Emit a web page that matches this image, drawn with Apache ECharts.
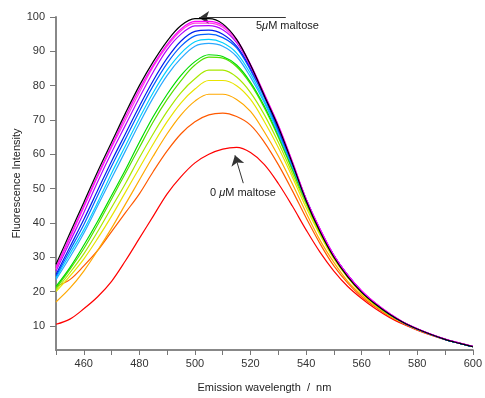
<!DOCTYPE html>
<html>
<head>
    <meta charset="utf-8" />
    <script src="https://cdn.jsdelivr.net/npm/echarts@6/dist/echarts.min.js"></script>
    <title></title>
    <style>
        html, body { margin: 0; padding: 0; background: #fff; }
    </style>
</head>
<body>
    <div id="main" style="width: 485px;height:398px;"></div>

    <script type="text/javascript">

        // emission wavelength, nm
        var wavelengths = [450, 455, 460, 465, 470, 475, 480, 485, 490, 495, 500, 505, 510, 515, 520, 525,
            530, 535, 540, 545, 550, 555, 560, 565, 570, 575, 580, 585, 590, 595, 600];

        // fluorescence intensity, one array per maltose concentration (0 -> 5 uM)
        var red = [10.5, 12, 15, 18.5, 23, 29, 35.5, 42, 48.5, 53.5, 57.5, 60, 61.5, 62, 60.5, 57,
            51.5, 45, 38, 31.5, 26, 21.5, 18, 15, 12.5, 10.5, 8.8, 7.3, 6, 5, 4];
        var orangeRed = [21.5, 23.5, 27.5, 32, 37.5, 43, 48.5, 55, 61, 66, 69.5, 71.5, 72, 71, 68.5, 63.5,
            57, 49.5, 41.5, 34, 27.5, 22.5, 18.5, 15.5, 12.8, 10.7, 8.9, 7.4, 6.1, 5, 4];
        var orange = [17, 21, 26, 32, 38.5, 45.5, 52.5, 59.5, 66, 71.5, 75.5, 77.5, 77.5, 76, 72.5, 66.5,
            59.5, 51.5, 43, 35, 28.5, 23, 19, 15.8, 13, 10.8, 9, 7.5, 6.1, 5, 4];
        var yellow = [20, 24.5, 29.5, 35.5, 42, 49, 56, 63, 69.5, 75, 79, 81.5, 81.5, 80, 76, 69.5,
            62, 53.5, 44.5, 36.5, 29.5, 24, 19.5, 16, 13.2, 11, 9, 7.5, 6.1, 5, 4];
        var lime = [20.5, 25.5, 31, 37.5, 44.5, 51.5, 59, 66, 72.5, 78, 82, 84.5, 84.5, 82.5, 78, 71.5,
            63.5, 54.5, 45.5, 37, 30, 24.3, 19.8, 16.2, 13.3, 11, 9.1, 7.5, 6.1, 5, 4];
        var green2 = [21, 26.5, 32.5, 39.5, 47, 54.5, 62, 69.5, 76, 81.5, 86, 88.3, 88, 85.5, 80.5, 73.5,
            65, 55.5, 46, 37.5, 30.2, 24.5, 20, 16.3, 13.4, 11, 9.1, 7.5, 6.1, 5, 4];
        var green = [21.5, 27, 33.5, 40.5, 48, 55.5, 63.5, 71, 77.5, 83, 87, 89, 88.5, 86, 81, 74,
            65.5, 56, 46.5, 37.8, 30.4, 24.6, 20, 16.4, 13.4, 11, 9.1, 7.5, 6.1, 5, 4];
        var sky = [23.5, 30, 37, 45, 53, 61, 69, 76.5, 83, 88, 91.5, 92.3, 91.5, 88.5, 82.5, 75,
            66, 56.5, 46.5, 38, 30.5, 24.7, 20, 16.4, 13.4, 11, 9.1, 7.5, 6.1, 5, 4];
        var cyan = [24, 31, 38, 46, 54.5, 62.5, 70.5, 78, 84.5, 89.5, 92.8, 93.5, 92.5, 89.5, 83.5, 75.5,
            66.5, 57, 47, 38.2, 30.6, 24.8, 20.1, 16.5, 13.5, 11, 9.1, 7.5, 6.1, 5, 4];
        var azure = [24.5, 32, 39.5, 48, 56.5, 64.5, 72.5, 80, 86.5, 91.5, 94.5, 95, 94, 91, 84.5, 76.5,
            67, 57, 46.8, 38, 30.5, 24.8, 20.1, 16.5, 13.5, 11, 9.1, 7.5, 6.1, 5, 4];
        var blue = [25, 33, 41, 49.5, 58, 66, 74, 81.5, 88, 93, 95.8, 96.2, 95, 91.5, 85, 77,
            67.5, 57.5, 47, 38, 30.5, 24.8, 20.1, 16.5, 13.5, 11, 9.1, 7.5, 6.1, 5, 4];
        var purple = [26, 34.5, 43, 52, 60.5, 68.5, 76.5, 84, 90.5, 95, 97.4, 97.5, 96.3, 92.5, 85.5, 77,
            68, 57.5, 46.8, 38, 30.5, 24.8, 20.2, 16.6, 13.6, 11.1, 9.2, 7.6, 6.2, 5.1, 4.1];
        var pink = [26.5, 35.5, 44.5, 53.5, 62, 70, 78, 85.5, 91.5, 96, 98.2, 98.2, 97, 93, 86, 77.5,
            68.5, 58, 47, 38.2, 30.6, 24.8, 20.2, 16.6, 13.6, 11.1, 9.2, 7.6, 6.2, 5.1, 4.1];
        var magenta = [27, 36, 45, 54, 62.5, 71, 79, 86, 92, 96.5, 98.7, 98.7, 97.5, 93.5, 86.2, 77.5,
            68.5, 58, 47, 38.3, 30.6, 24.8, 20.2, 16.6, 13.6, 11.1, 9.2, 7.6, 6.2, 5.1, 4.1];
        var black = [28, 37, 46, 55, 63.5, 72, 80, 87, 93, 97.5, 99.5, 99.5, 98, 93.5, 86, 77,
            68, 57.5, 46.5, 37.5, 30, 24.3, 19.8, 16.3, 13.4, 11, 9.1, 7.5, 6.1, 5, 4];

        var curves = [red, orangeRed, orange, yellow, lime, green2, green, sky, cyan, azure, blue, purple, pink, magenta, black];
        var colors = ['#ff0000', '#ff5a00', '#ffa800', '#e8e400', '#a8e800', '#55e000', '#00dd00', '#2aa8ff', '#00d0ff',
            '#0060ff', '#0020ee', '#b000ff', '#ff44dd', '#ff00ff', '#000000'];

        var yTicks = [10, 20, 30, 40, 50, 60, 70, 80, 90, 100];
        var xTicks = [450, 460, 470, 480, 490, 500, 510, 520, 530, 540, 550, 560, 570, 580, 590, 600];
        var xLabels = [460, 480, 500, 520, 540, 560, 580, 600];

        var myChart = echarts.init(document.getElementById('main'));

        var series = [];
        for (var i = 0; i < curves.length; i++) {
            var pts = [];
            for (var j = 0; j < wavelengths.length; j++) {
                pts.push([wavelengths[j], curves[i][j]]);
            }
            series.push({
                type: 'line',
                data: pts,
                smooth: 0.35,
                symbol: 'none',
                lineStyle: { color: colors[i], width: 1.2 },
                z: 2 + i
            });
        }

        // arrows pointing at the 5 uM and 0 uM curves
        series.push({
            type: 'line',
            data: [],
            z: 30,
            markLine: {
                silent: true,
                symbol: ['none', 'arrow'],
                symbolSize: 10,
                label: { show: false },
                lineStyle: { color: '#333', width: 1, type: 'solid' },
                data: [
                    [{ coord: [532.7, 99.8] }, { coord: [501.5, 99.8] }],
                    [{ coord: [517.4, 51.6] }, { coord: [514.4, 59.7] }]
                ]
            }
        });

        myChart.setOption({
            animation: false,
            textStyle: { fontFamily: 'Liberation Sans, Arial, sans-serif' },
            grid: { left: 56, right: 8, top: 17, bottom: 45 },
            xAxis: {
                type: 'value',
                min: 450,
                max: 600,
                name: 'Emission wavelength  /  nm',
                nameLocation: 'middle',
                nameGap: 32,
                nameTextStyle: { fontSize: 11, color: '#222' },
                axisLine: { lineStyle: { color: '#888', width: 2 } },
                axisTick: { customValues: xTicks, length: 5, lineStyle: { color: '#777', width: 1 } },
                axisLabel: { customValues: xLabels, fontSize: 11, color: '#333', margin: 8 },
                splitLine: { show: false }
            },
            yAxis: {
                type: 'value',
                min: 3,
                max: 100,
                name: 'Fluorescence Intensity',
                nameLocation: 'middle',
                nameRotate: 90,
                nameGap: 34,
                nameMoveOverlap: false,
                nameTextStyle: { fontSize: 11, color: '#222' },
                axisLine: { show: true, lineStyle: { color: '#888', width: 2 } },
                axisTick: { show: true, customValues: yTicks, length: 6, lineStyle: { color: '#777', width: 1 } },
                axisLabel: { customValues: yTicks, fontSize: 11, color: '#333', margin: 11 },
                splitLine: { show: false }
            },
            graphic: [
                {
                    type: 'text', left: 256, top: 20,
                    style: {
                        text: '5{mu|\u03bc}M maltose',
                        rich: { mu: { fontStyle: 'italic', fontSize: 11, fill: '#222' } },
                        fontSize: 11, fill: '#222', fontFamily: 'Liberation Sans, Arial, sans-serif'
                    }
                },
                {
                    type: 'text', left: 210, top: 187,
                    style: {
                        text: '0 {mu|\u03bc}M maltose',
                        rich: { mu: { fontStyle: 'italic', fontSize: 11, fill: '#222' } },
                        fontSize: 11, fill: '#222', fontFamily: 'Liberation Sans, Arial, sans-serif'
                    }
                }
            ],
            series: series
        });

    </script>
</body>
</html>
